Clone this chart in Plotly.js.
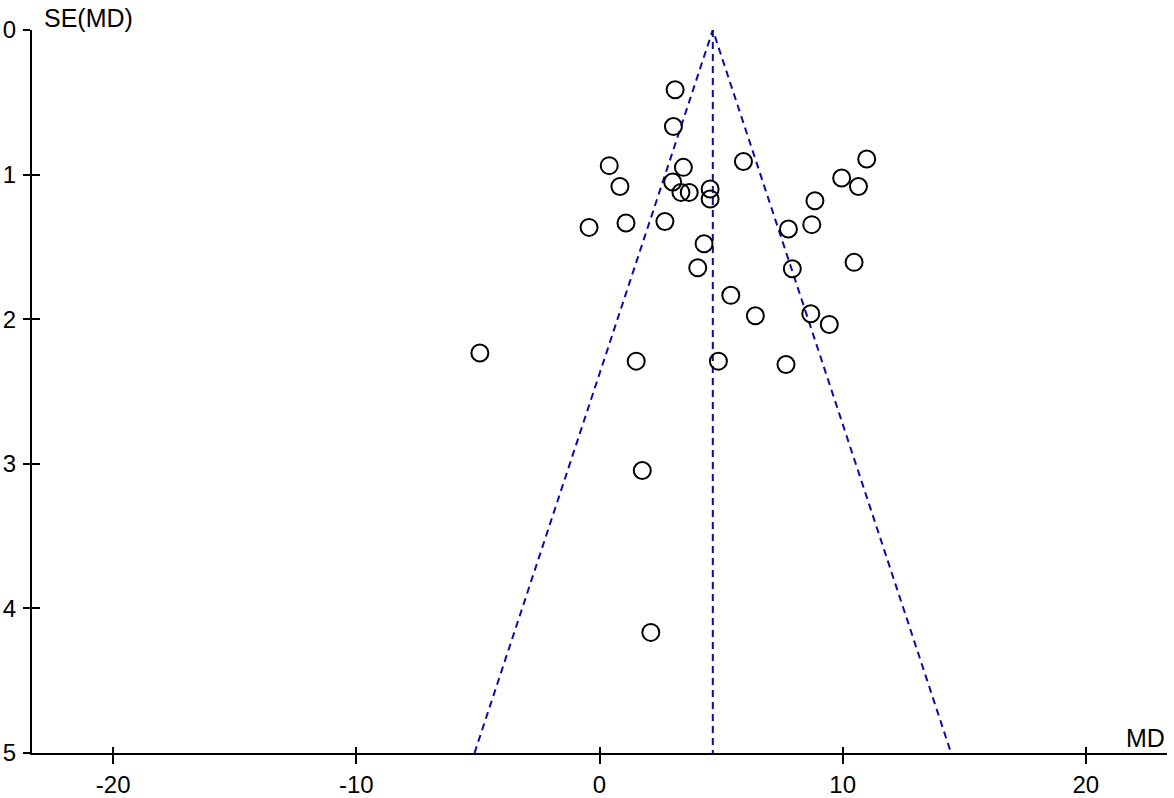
<!DOCTYPE html>
<html>
<head>
<meta charset="utf-8">
<script src="https://cdn.plot.ly/plotly-3.0.1.min.js"></script>
<style>html,body{margin:0;padding:0;background:#fff}#chart{width:1174px;height:798px}</style>
</head>
<body>
<div id="chart"></div>
<script>
// Study estimates (mean difference) and their standard errors
const md = [3.11, 3.04, 0.40, 3.45, 5.92, 10.99, 0.84, 3.01, 3.35, 3.69, 4.55, 4.55,
            9.96, 10.65, 8.86, -0.43, 1.09, 2.69, 7.77, 8.73, 4.30, 4.04, 7.93, 10.47,
            5.40, 6.41, 8.69, 9.45, -4.92, 1.51, 4.89, 7.67, 1.76, 2.11];
const se = [0.413, 0.667, 0.938, 0.950, 0.909, 0.892, 1.082, 1.051, 1.123, 1.123, 1.100, 1.169,
            1.024, 1.082, 1.181, 1.365, 1.335, 1.324, 1.376, 1.346, 1.478, 1.644, 1.651, 1.607,
            1.835, 1.976, 1.962, 2.036, 2.234, 2.290, 2.290, 2.313, 3.046, 4.166];
// Funnel (pseudo 95% CI) outline and pooled estimate line
const funnelX = [-5.14, 4.66, 14.46];
const funnelY = [5, 0, 5];
const pooledX = [4.66, 4.66];
const pooledY = [0, 5];
const xTicks = [-20, -10, 0, 10, 20];
const yTicks = [0, 1, 2, 3, 4, 5];

const FONT = "Liberation Sans, Arial, sans-serif";
const blue = "#0a0aa8";
const TICKFONT = {family: FONT, size: 24, color: "#000"};

const traces = [
  {x: funnelX, y: funnelY, mode: "lines", line: {color: blue, width: 2, dash: "7px,5px"}, hoverinfo: "skip"},
  {x: pooledX, y: pooledY, mode: "lines", line: {color: blue, width: 2, dash: "7px,5px"}, hoverinfo: "skip"},
  {x: md, y: se, mode: "markers", marker: {symbol: "circle-open", size: 17, color: "#000", line: {width: 2, color: "#000"}}}
];

const baseX = {range: [-23.34, 23.34], tickvals: xTicks, ticktext: xTicks.map(String),
  showgrid: false, zeroline: false, showline: true, linecolor: "#000", linewidth: 2,
  tickcolor: "#000", tickwidth: 2, fixedrange: true, tickfont: TICKFONT};
const baseY = {range: [5, 0], tickvals: yTicks, ticktext: yTicks.map(String),
  showgrid: false, zeroline: false, showline: true, linecolor: "#000", linewidth: 2,
  tickcolor: "#000", tickwidth: 2, fixedrange: true, tickfont: TICKFONT};

const layout = {
  width: 1174, height: 798,
  margin: {l: 32, r: 7, t: 30, b: 45},
  paper_bgcolor: "#fff", plot_bgcolor: "#fff",
  showlegend: false,
  font: {family: FONT, size: 24, color: "#000"},
  xaxis: Object.assign({}, baseX, {ticks: "outside", ticklen: 9, ticklabelstandoff: 0}),
  yaxis: Object.assign({}, baseY, {ticks: "outside", ticklen: 7, ticklabelstandoff: 2}),
  xaxis2: Object.assign({}, baseX, {overlaying: "x", ticks: "inside", ticklen: 6, showticklabels: false, anchor: "y"}),
  yaxis2: Object.assign({}, baseY, {overlaying: "y", ticks: "inside", ticklen: 8, showticklabels: false, anchor: "x"}),
  annotations: [
    {text: "SE(MD)", xref: "paper", yref: "paper", x: 0.009, y: 1.016, xanchor: "left", yanchor: "middle", showarrow: false, font: {family: FONT, size: 25, color: "#000"}},
    {text: "MD", xref: "paper", yref: "paper", x: 1, y: 0.021, xanchor: "right", yanchor: "middle", showarrow: false, font: {family: FONT, size: 25, color: "#000"}}
  ]
};
// invisible trace so the overlay axes (inner tick halves) are drawn
traces.push({x: [0], y: [0], xaxis: "x2", yaxis: "y2", mode: "markers", marker: {opacity: 0}, hoverinfo: "skip"});

Plotly.newPlot("chart", traces, layout, {staticPlot: true, displayModeBar: false});
</script>
</body>
</html>
